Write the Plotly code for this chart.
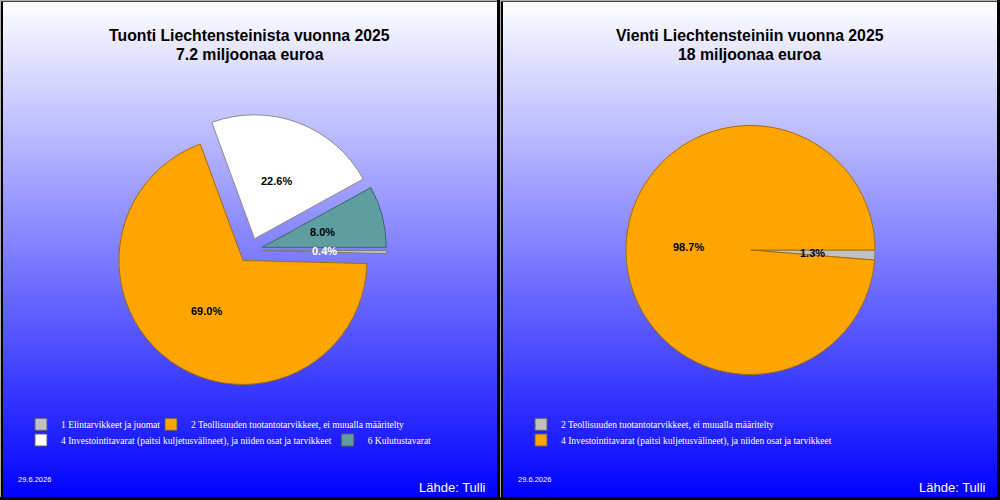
import base64
import math
import plotly.graph_objects as go

# ---------------- data ----------------
imp_title = "Tuonti Liechtensteinista vuonna 2025"
imp_subtitle = "7.2 miljoonaa euroa"
imp_labels = [
    "1 Elintarvikkeet ja juomat",
    "2 Teollisuuden tuotantotarvikkeet, ei muualla määritelty",
    "4 Investointitavarat (paitsi kuljetusvälineet), ja niiden osat ja tarvikkeet",
    "6 Kulutustavarat",
]
imp_shares = [0.4, 69.0, 22.6, 8.0]
imp_colors = ["#C0C0C0", "#FFA500", "#FFFFFF", "#5F9EA0"]
imp_edges = ["#7A7A7A", "#A86C00", "#8C8C8C", "#3C6668"]
imp_textcol = ["white", "black", "black", "black"]
imp_pull = [0.1, 0.1, 0.1, 0.1]

exp_title = "Vienti Liechtensteiniin vuonna 2025"
exp_subtitle = "18 miljoonaa euroa"
exp_labels = [
    "2 Teollisuuden tuotantotarvikkeet, ei muualla määritelty",
    "4 Investointitavarat (paitsi kuljetusvälineet), ja niiden osat ja tarvikkeet",
]
exp_shares = [1.3, 98.7]
exp_colors = ["#C0C0C0", "#FFA500"]
exp_edges = ["#7A7A7A", "#A86C00"]
exp_textcol = ["black", "black"]
exp_pull = [0, 0]

date_text = "29.6.2026"
source_text = "Lähde: Tulli"

W, H = 1000, 500


def px_domain(cx, cy, half):
    return dict(x=[(cx - half) / W, (cx + half) / W],
                y=[1 - (cy + half) / H, 1 - (cy - half) / H])


def mid_angles(vals):
    tot = sum(vals)
    c = 0.0
    out = []
    for v in vals:
        out.append(2 * math.pi * (c + v / 2) / tot)
        c += v
    return out


fig = go.Figure()

left_dom = px_domain(250.2, 250.4, 124 * (1 + max(imp_pull)))
right_dom = px_domain(750.5, 250.0, 124.5 * (1 + max(exp_pull)))

fig.add_trace(go.Pie(
    labels=imp_labels, values=imp_shares, sort=False, direction="clockwise",
    rotation=90, pull=imp_pull, domain=left_dom, textinfo="none",
    marker=dict(colors=imp_colors, line=dict(color=imp_edges, width=1)),
    showlegend=False, hoverinfo="label+percent",
))
fig.add_trace(go.Pie(
    labels=exp_labels, values=exp_shares, sort=False, direction="clockwise",
    rotation=90, pull=exp_pull, domain=right_dom, textinfo="none",
    marker=dict(colors=exp_colors, line=dict(color=exp_edges, width=1)),
    showlegend=False, hoverinfo="label+percent",
))

# legend entries (one legend per entry so they flow like the original)
legend_items = [
    (imp_labels[0], imp_colors[0], 36, 424.3),
    (imp_labels[1], imp_colors[1], 166, 424.3),
    (imp_labels[2], imp_colors[2], 36, 440.0),
    (imp_labels[3], imp_colors[3], 342.7, 440.0),
    (exp_labels[0], exp_colors[0], 536, 424.3),
    (exp_labels[1], exp_colors[1], 536, 440.0),
]
legend_layouts = {}
for i, (name, col, lx, ly) in enumerate(legend_items):
    key = "legend" if i == 0 else f"legend{i + 1}"
    fig.add_trace(go.Bar(
        x=[None], y=[None], name=name, legend=key, showlegend=True,
        marker=dict(color=col, line=dict(color="#606060", width=1)),
        xaxis="x", yaxis="y", hoverinfo="skip",
    ))
    legend_layouts[key] = dict(
        x=(lx - 15) / W, y=1 - ly / H, xanchor="left", yanchor="middle",
        orientation="h", bgcolor="rgba(0,0,0,0)", borderwidth=0,
        font=dict(family="Liberation Serif", size=9.5, color="white"),
        itemclick=False, itemdoubleclick=False,
    )

# percentage labels placed on hidden axes that match each pie's box
annotations = []
for vals, pulls, cols, xr, yr in [
    (imp_shares, imp_pull, imp_textcol, "x", "y"),
    (exp_shares, exp_pull, exp_textcol, "x2", "y2"),
]:
    angs = mid_angles(vals)
    for v, a, p, c in zip(vals, angs, pulls, cols):
        rr = 0.5 + p
        annotations.append(dict(
            x=rr * math.cos(a), y=-rr * math.sin(a), xref=xr, yref=yr,
            text=f"{v:.1f}%", showarrow=False,
            font=dict(family="Liberation Sans", size=11, color=c, weight="bold"),
        ))

for t1, t2, cx in [(imp_title, imp_subtitle, 249.5), (exp_title, exp_subtitle, 749.7)]:
    for txt, ty in [(t1, 35.0), (t2, 54.3)]:
        annotations.append(dict(
            x=cx / W, y=1 - ty / H, xref="paper", yref="paper",
            text=txt, showarrow=False, xanchor="center", yanchor="middle",
            font=dict(family="Liberation Sans", size=15.8, color="black", weight="bold"),
        ))
for ox in [0, 500]:
    annotations.append(dict(
        x=(ox + 16) / W, y=1 - 479 / H, xref="paper", yref="paper",
        text=date_text, showarrow=False, xanchor="left", yanchor="middle",
        font=dict(family="Liberation Sans", size=7.5, color="white"),
    ))
    annotations.append(dict(
        x=(ox + 488) / W, y=1 - 487 / H, xref="paper", yref="paper",
        text=source_text, showarrow=False, xanchor="right", yanchor="middle",
        font=dict(family="Liberation Sans", size=13, color="white"),
    ))

# panel borders
shapes = []
for ox in [0, 500]:
    x0p, x1p = ox / W, (ox + 500) / W
    shapes += [
        dict(type="line", xref="paper", yref="paper", x0=(ox + 0.5) / W, x1=(ox + 0.5) / W,
             y0=0, y1=1, line=dict(color="#B0B0B0", width=1)),
        dict(type="line", xref="paper", yref="paper", x0=x0p, x1=x1p,
             y0=1 - 0.5 / H, y1=1 - 0.5 / H, line=dict(color="#B0B0B0", width=1)),
        dict(type="line", xref="paper", yref="paper", x0=(ox + 2) / W, x1=(ox + 2) / W,
             y0=0, y1=1 - 1 / H, line=dict(color="black", width=2)),
        dict(type="line", xref="paper", yref="paper", x0=(ox + 1) / W, x1=x1p,
             y0=1 - 1.5 / H, y1=1 - 1.5 / H, line=dict(color="#404040", width=1)),
        dict(type="line", xref="paper", yref="paper", x0=(ox + 498.5) / W, x1=(ox + 498.5) / W,
             y0=0, y1=1, line=dict(color="black", width=3)),
        dict(type="line", xref="paper", yref="paper", x0=x0p, x1=x1p,
             y0=1.5 / H, y1=1.5 / H, line=dict(color="black", width=3)),
    ]

svg = (
    '<svg xmlns="http://www.w3.org/2000/svg" width="1000" height="500" '
    'preserveAspectRatio="none"><defs><linearGradient id="g" x1="0" y1="0" x2="0" y2="1">'
    '<stop offset="0" stop-color="#FFFFFF"/><stop offset="1" stop-color="#0000FF"/>'
    '</linearGradient></defs><rect width="1000" height="500" fill="url(#g)"/></svg>'
)
bg_src = "data:image/svg+xml;base64," + base64.b64encode(svg.encode()).decode()

axis_hidden = dict(visible=False, fixedrange=True, showgrid=False, zeroline=False)
lim_l = 1 + max(imp_pull)
lim_r = 1 + max(exp_pull)

fig.update_layout(
    width=W, height=H, template="none",
    margin=dict(l=0, r=0, t=0, b=0, pad=0),
    paper_bgcolor="#0000FF", plot_bgcolor="rgba(0,0,0,0)",
    xaxis=dict(domain=left_dom["x"], range=[-lim_l, lim_l], **axis_hidden),
    yaxis=dict(domain=left_dom["y"], range=[-lim_l, lim_l], **axis_hidden),
    xaxis2=dict(domain=right_dom["x"], range=[-lim_r, lim_r], anchor="y2", **axis_hidden),
    yaxis2=dict(domain=right_dom["y"], range=[-lim_r, lim_r], anchor="x2", **axis_hidden),
    images=[dict(source=bg_src, xref="paper", yref="paper", x=0, y=1, sizex=1, sizey=1,
                 sizing="stretch", layer="below", xanchor="left", yanchor="top")],
    annotations=annotations,
    shapes=shapes,
    **legend_layouts,
)

fig.write_html(
    "out.html",
    config={"displayModeBar": False},
    post_script="document.body.style.margin='0px';"
                "document.documentElement.style.overflow='hidden';",
)
